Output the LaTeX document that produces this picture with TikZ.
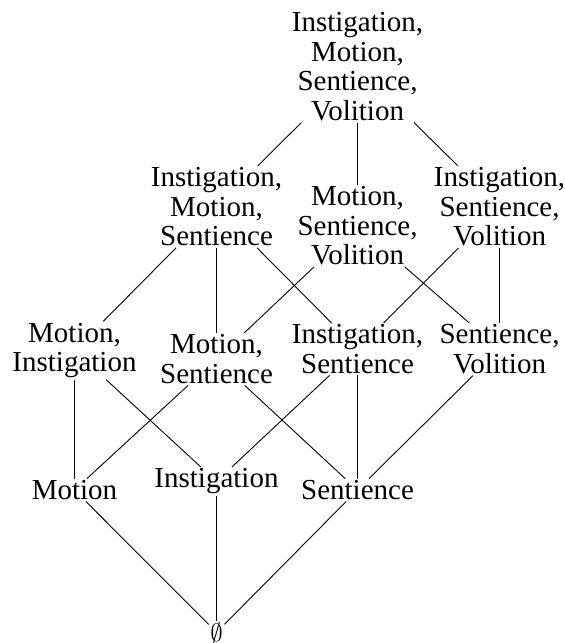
\documentclass[tikz,border=0pt]{standalone}
\usepackage{fontspec}
\setmainfont{Liberation Serif}
\tikzset{
  setnode/.style={inner sep=1.5pt, align=center, anchor=north, font=\fontsize{29}{29.5}\selectfont},
  edgeln/.style={black, line width=0.9pt}
}

\begin{document}
\begin{tikzpicture}[x=1pt, y=-1pt]
\useasboundingbox (0,0) rectangle (565,643);
\node[setnode] (imsv) at (357.5,11) {Instigation,\\Motion,\\Sentience,\\Volition};
\node[setnode] (ims) at (216.5,166) {Instigation,\\Motion,\\Sentience};
\node[setnode] (msv) at (357.5,184.7) {Motion,\\Sentience,\\Volition};
\node[setnode] (isv) at (499.5,166) {Instigation,\\Sentience,\\Volition};
\node[setnode] (mi) at (74.5,321.3) {Motion,\\Instigation};
\node[setnode] (ms) at (216.5,333) {Motion,\\Sentience};
\node[setnode] (is) at (357.5,323) {Instigation,\\Sentience};
\node[setnode] (sv) at (499.5,323) {Sentience,\\Volition};
\node[setnode] (m) at (74.5,478.6) {Motion};
\node[setnode] (i) at (216.5,467) {Instigation};
\node[setnode] (s) at (357.5,478.6) {Sentience};
\node[setnode, anchor=base] (empty) at (216.5,641) {$\emptyset$};

\draw[edgeln] (imsv) -- (ims);
\draw[edgeln] (imsv) -- (msv);
\draw[edgeln] (imsv) -- (isv);
\draw[edgeln] (ims) -- (mi);
\draw[edgeln] (ims) -- (ms);
\draw[edgeln] (ims) -- (is);
\draw[edgeln] (msv) -- (ms);
\draw[edgeln] (msv) -- (sv);
\draw[edgeln] (isv) -- (is);
\draw[edgeln] (isv) -- (sv);
\draw[edgeln] (mi) -- (m);
\draw[edgeln] (mi) -- (i);
\draw[edgeln] (ms) -- (m);
\draw[edgeln] (ms) -- (s);
\draw[edgeln] (is) -- (i);
\draw[edgeln] (is) -- (s);
\draw[edgeln] (sv) -- (s);
\draw[edgeln] (m) -- (empty);
\draw[edgeln] (i) -- (empty);
\draw[edgeln] (s) -- (empty);
\end{tikzpicture}
\end{document}
